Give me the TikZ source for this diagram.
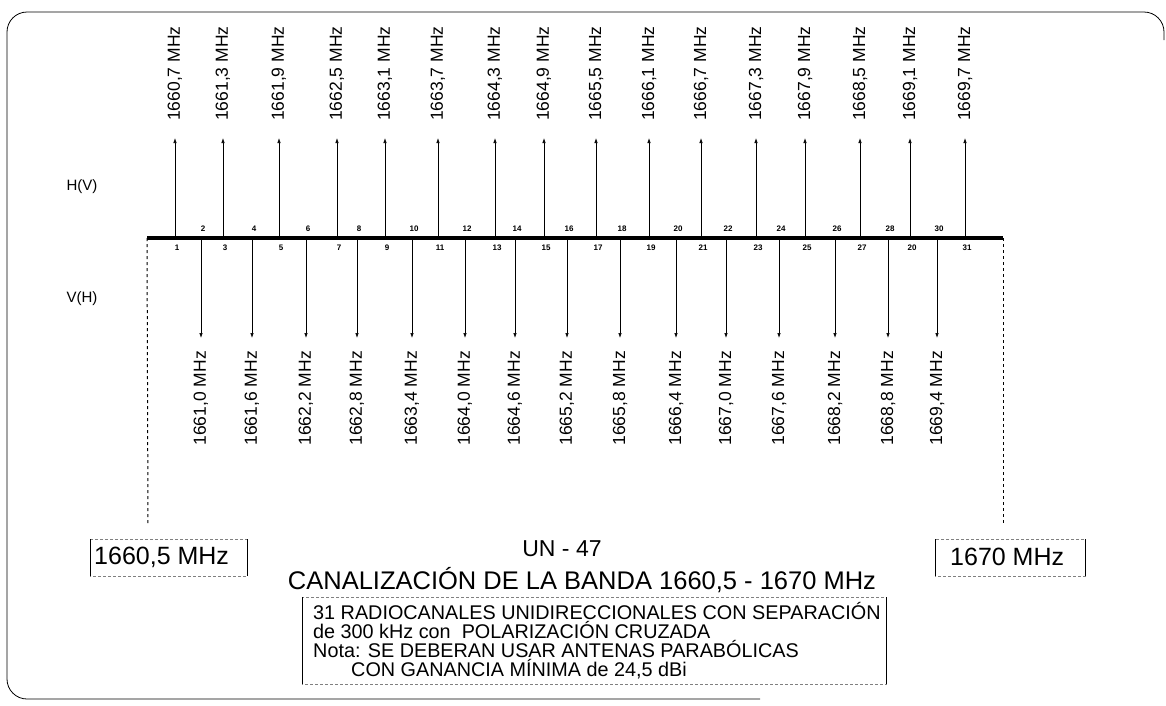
\documentclass[tikz,border=0pt]{standalone}
\usepackage{fontspec}
\setmainfont{Liberation Sans}
\usepackage{tikz}
\tikzset{>=latex}
\usetikzlibrary{arrows.meta}

\begin{document}
\begin{tikzpicture}[x=1pt,y=-1pt]
            \tikzset{axis/.style={line width=3.5pt}}
            \tikzset{chan/.style={line width=0.7pt, -{Latex[length=5pt,width=3.5pt]}}}
            \tikzset{freq/.style={rotate=90, inner sep=0pt, font=\fontsize{17.5}{17.5}\selectfont}}
            \tikzset{chnum/.style={inner sep=0pt, font=\fontsize{8}{8}\selectfont\bfseries}}
            \tikzset{pol/.style={inner sep=0pt, font=\fontsize{15}{15}\selectfont}}
            \tikzset{limit/.style={line width=1pt, dashed}}
            \tikzset{edgelbl/.style={inner sep=0pt, anchor=west, font=\fontsize{25}{25}\selectfont}}
            \tikzset{boxrule/.style={line width=0.7pt}}
            \tikzset{boxdot/.style={line width=0.6pt, densely dashed, gray}}
            \useasboundingbox (0,0) rectangle (1166,705);
            \draw[line width=0.8pt, rounded corners=20pt] (1164,40) |- (7,12) |- (760,699);

            % odd channels, H(V)
            \foreach \n/\xx/\f/\lab in {1/175/{1660,7}/1, 3/223/{1661,3}/3, 5/279/{1661,9}/5,
                7/337/{1662,5}/7, 9/385/{1663,1}/9, 11/438/{1663,7}/11, 13/495/{1664,3}/13,
                15/544/{1664,9}/15, 17/596/{1665,5}/17, 19/649/{1666,1}/19, 21/701/{1666,7}/21,
                23/756/{1667,3}/23, 25/805/{1667,9}/25, 27/860/{1668,5}/27, 29/910/{1669,1}/20,
                31/965/{1669,7}/31} {
              \coordinate (c\n) at (\xx,238);
              \node[freq, anchor=west] (f\n) at (\xx,121) {\f\ MHz};
              \node[chnum] (n\n) at (\xx+2,248) {\lab};
              \draw[chan, shorten >=17pt] (c\n) -- (f\n.west);
            }
            % even channels, V(H)
            \foreach \n/\xx/\f in {2/201/{1661,0}, 4/252/{1661,6}, 6/306/{1662,2}, 8/357/{1662,8},
                10/412/{1663,4}, 12/465/{1664,0}, 14/515/{1664,6}, 16/567/{1665,2}, 18/620/{1665,8},
                20/676/{1666,4}, 22/726/{1667,0}, 24/779/{1667,6}, 26/835/{1668,2}, 28/888/{1668,8},
                30/937/{1669,4}} {
              \coordinate (c\n) at (\xx,238);
              \node[freq, anchor=east] (f\n) at (\xx,351) {\f\ MHz};
              \node[chnum] (n\n) at (\xx+2,229) {\n};
              \draw[chan, shorten >=13pt] (c\n) -- (f\n.east);
            }

            \coordinate (axL) at (147,238);
            \coordinate (axR) at (1003,238);
            \coordinate (limL) at (148,525);
            \coordinate (limR) at (1003,525);
            \draw[axis] (axL) -- (axR);
            \draw[limit] (axL) -- (limL);
            \draw[limit] (axR) -- (limR);

            \node[pol] (hv) at (82,187) {H(V)};
            \node[pol] (vh) at (82,299) {V(H)};

            \node[edgelbl] (lo) at (94,557) {1660,5 MHz};
            \draw[boxdot] (90,539) rectangle (247,576);
            \draw[boxrule] (90,539) -- (90,576) (247,539) -- (247,576);
            \node[edgelbl] (hi) at (950,557) {1670 MHz};
            \draw[boxdot] (935,539) rectangle (1085,576);
            \draw[boxrule] (935,539) -- (935,576) (1085,539) -- (1085,576);

            \node[inner sep=0pt, font=\fontsize{23}{23}\selectfont] (un) at (562,549) {UN - 47};
            \node[inner sep=0pt, font=\fontsize{25.5}{25.5}\selectfont] (title) at (582,580)
              {CANALIZACIÓN DE LA BANDA 1660,5 - 1670 MHz};

            \node[inner sep=0pt, anchor=north west, align=left, font=\fontsize{19.8}{19}\selectfont] (notes) at (313,602)
              {31 RADIOCANALES UNIDIRECCIONALES CON SEPARACIÓN\\
               de 300 kHz con\ \ POLARIZACIÓN CRUZADA\\
               Nota: SE DEBERAN USAR ANTENAS PARABÓLICAS\\
               \hspace*{38pt}CON GANANCIA MÍNIMA de 24,5 dBi};
            \draw[boxdot] (302,597) rectangle (886,684);
            \draw[boxrule] (302,597) -- (302,684) (886,597) -- (886,684);
\end{tikzpicture}
\end{document}
